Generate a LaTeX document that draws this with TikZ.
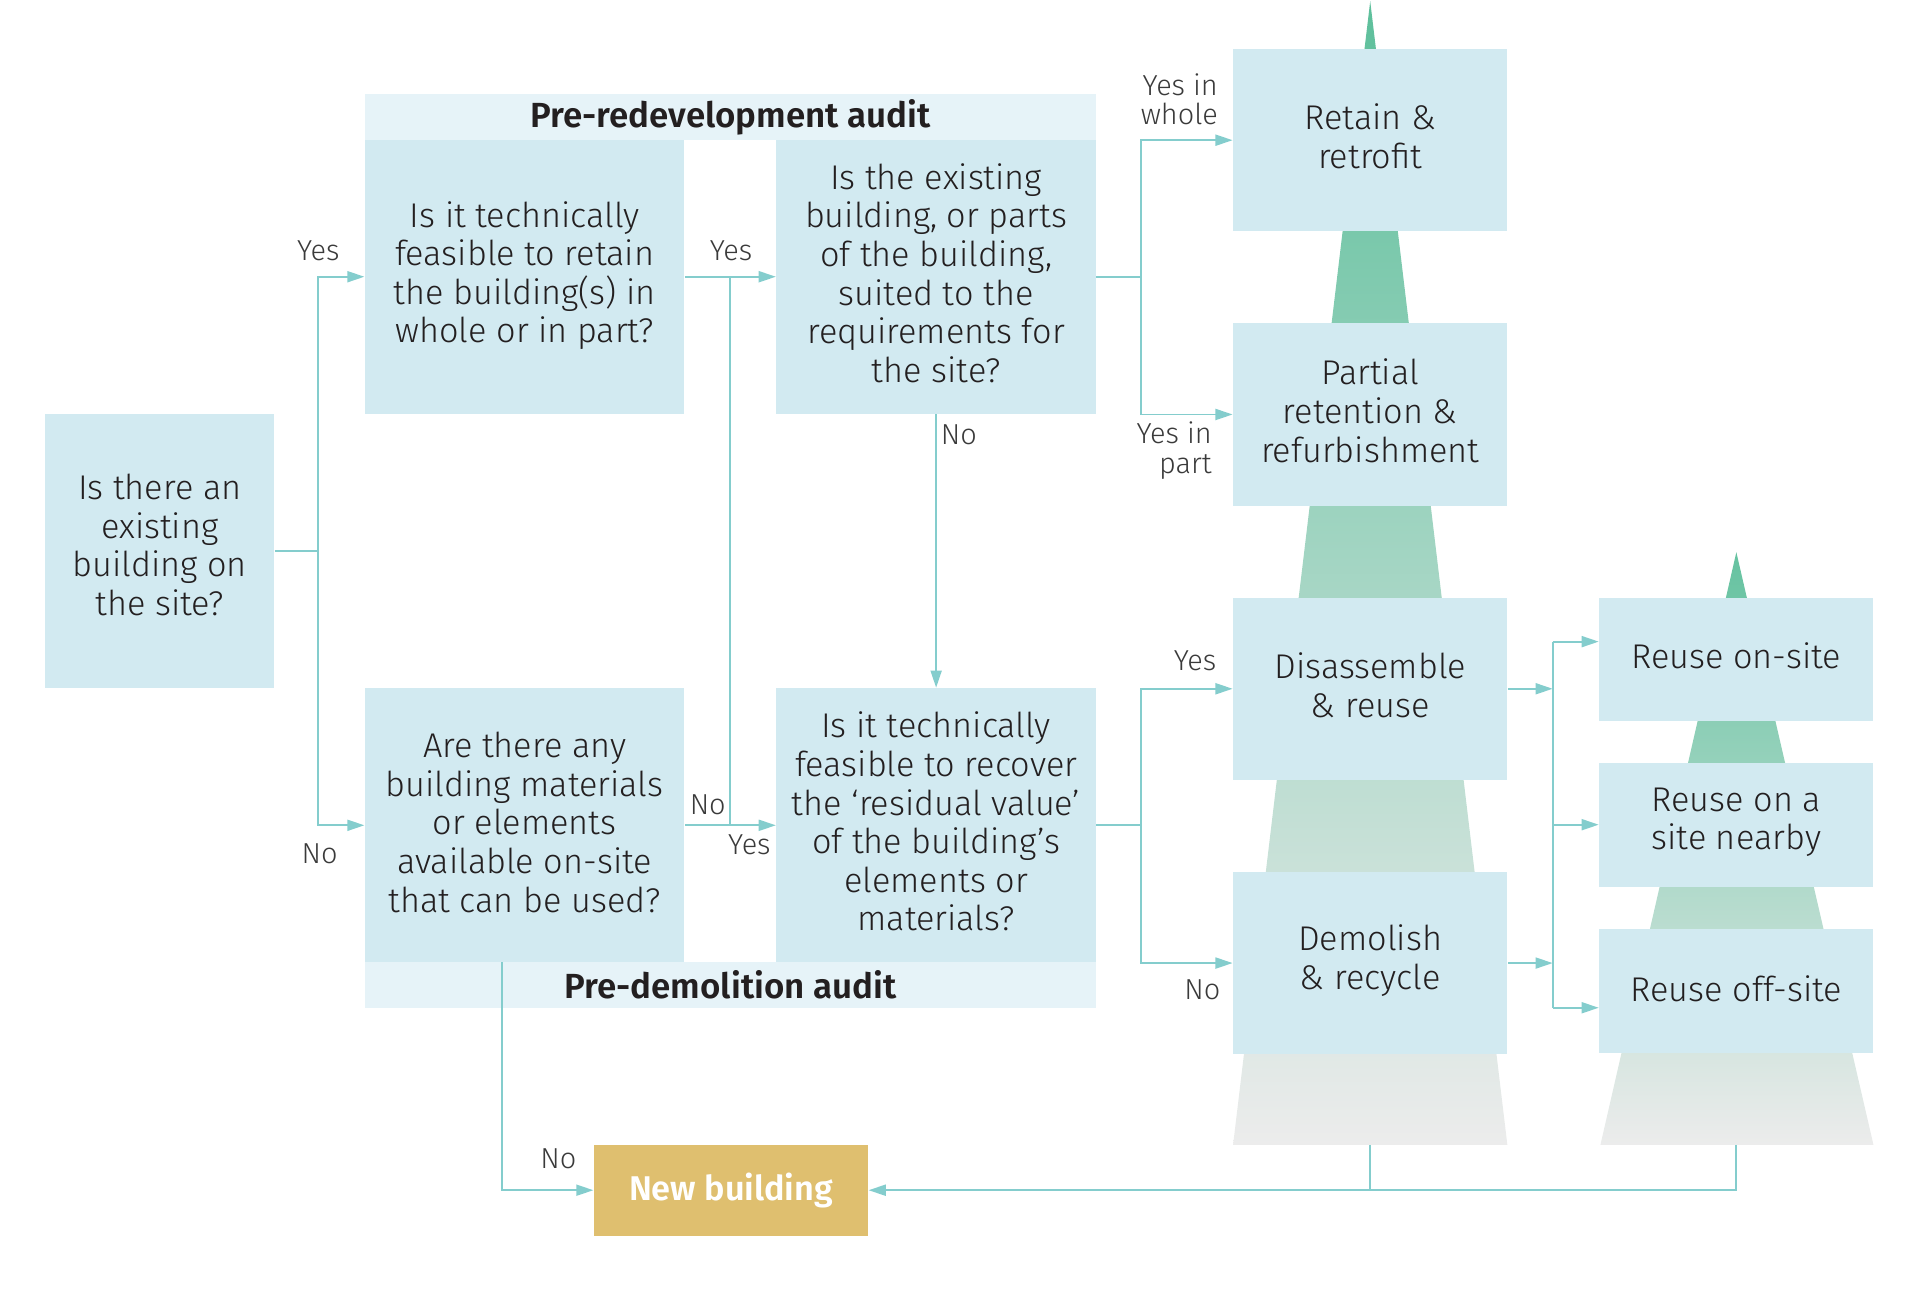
\documentclass[tikz,border=0pt]{standalone}
\usepackage{fontspec}
\IfFontExistsTF{Fira Sans Light}{\setmainfont{Fira Sans Light}}{\setmainfont{Fira Sans}}
\IfFontExistsTF{Fira Sans SemiBold}{\newfontfamily\myHeadFam{Fira Sans SemiBold}}{\newfontfamily\myHeadFam{Fira Sans}[UprightFont=* Bold]}
\usetikzlibrary{arrows.meta,calc}
\definecolor{boxc}{HTML}{D2EAF1}
\definecolor{headc}{HTML}{E6F3F8}
\definecolor{linec}{HTML}{84CDCD}
\definecolor{txtc}{HTML}{231F20}
\definecolor{labc}{HTML}{3A3A3A}
\definecolor{goldc}{HTML}{DFBF6F}
\definecolor{gtop}{HTML}{5DBF9B}
\definecolor{gbot}{HTML}{ECECEC}
\newcommand\myBody{\fontsize{14}{15.75}\selectfont}
\newcommand\myLab{\fontsize{11.8}{12}\selectfont}
\newcommand\myHead{\myHeadFam\fontsize{14.25}{15}\selectfont}
% box with separately placed text: style, name, centre, text shift, text
\newcommand\myBox[5]{\node[#1] (#2) at #3 {};
  \node[boxtext] (#2t) at ([yshift=#4]#2.center) {#5};}
\begin{document}
\begin{tikzpicture}[x=0.5pt,y=-0.5pt,
  box/.style={fill=boxc, draw=none, inner sep=0pt},
  boxtext/.style={inner sep=0pt, align=center, text=txtc, font=\myBody},
  qbox/.style={box, minimum width=130.5pt, minimum height=112pt},
  rbox/.style={box, minimum width=112pt, minimum height=74.5pt},
  sbox/.style={box, minimum width=112pt, minimum height=50.5pt},
  headbox/.style={fill=headc, inner sep=0pt, minimum width=298.5pt, minimum height=18.5pt, text=txtc, font=\myHead},
  lab/.style={inner sep=0pt, text=labc, font=\myLab, align=center},
  conn/.style={draw=linec, line width=0.8pt},
  arr/.style={conn, -{Triangle[length=7pt,width=4.5pt]}}]
\useasboundingbox (0,0) rectangle (1568,1068);
% pyramids
\shade[top color=gtop, bottom color=gbot] (1119,1) -- (1231,935) -- (1007,935) -- cycle;
\shade[top color=gtop!95!white, bottom color=gbot] (1418,451) -- (1530,935) -- (1307,935) -- cycle;
\coordinate (base1) at (1119,935);
\coordinate (base2) at (1418,935);
% boxes
\myBox{box, minimum width=93.5pt, minimum height=112pt}{Q0}{(130.5,450)}{2.5pt}{Is there an\\existing\\building on\\the site?}
\node[headbox] (H1) at (596.5,95.5) {Pre-redevelopment audit};
\node[headbox] (H2) at (596.5,804.5) {Pre-demolition audit};
\myBox{qbox}{Q1}{(428.5,226)}{0.5pt}{Is it technically\\feasible to retain\\the building(s) in\\whole or in part?}
\myBox{qbox}{Q2}{(764.5,226)}{1.5pt}{Is the existing\\building, or parts\\of the building,\\suited to the\\requirements for\\the site?}
\myBox{qbox}{Q3}{(428.5,674)}{1.2pt}{Are there any\\building materials\\or elements\\available on-site\\that can be used?}
\myBox{qbox}{Q4}{(764.5,674)}{1.5pt}{Is it technically\\feasible to recover\\the ‘residual value’\\of the building’s\\elements or\\materials?}
\myBox{rbox}{R1}{(1119,114.5)}{1.6pt}{Retain \&\\retrofit}
\myBox{rbox}{R2}{(1119,338.5)}{1.5pt}{Partial\\retention \&\\refurbishment}
\myBox{rbox}{R3}{(1119,562.5)}{1.5pt}{Disassemble\\\& reuse}
\myBox{rbox}{R4}{(1119,786.5)}{1pt}{Demolish\\\& recycle}
\myBox{sbox}{R5}{(1418,538.5)}{1.5pt}{Reuse on-site}
\myBox{sbox}{R6}{(1418,673.5)}{1pt}{Reuse on a\\site nearby}
\myBox{sbox}{R7}{(1418,809.5)}{1pt}{Reuse off-site}
\node[fill=goldc, inner sep=0pt, minimum width=112pt, minimum height=37pt, text=white, font=\myHeadFam\fontsize{14}{16}\selectfont] (NB) at (597,972) {New building};
% connectors
\coordinate (j1) at (260,450);
\draw[conn] (Q0.east) -- (j1);
\draw[arr] (j1) |- (Q1.west);
\draw[arr] (j1) |- (Q3.west);
\draw[arr] (Q1.east) -- (Q2.west);
\coordinate (jm) at ($(Q1.east)!0.5!(Q2.west)$);
\draw[conn] (jm) -- (jm |- Q3.east);
\draw[arr] (Q3.east) -- (Q4.west);
\draw[arr] (Q2.south) -- (Q4.north);
\coordinate (j2) at (932,226);
\draw[conn] (Q2.east) -- (j2);
\draw[arr] (j2) |- (R1.west);
\draw[arr] (j2) |- (R2.west);
\coordinate (j3) at (932,674);
\draw[conn] (Q4.east) -- (j3);
\draw[arr] (j3) |- (R3.west);
\draw[arr] (j3) |- (R4.west);
\coordinate (bus1) at (1268,524);
\coordinate (bus2) at (1268,823);
\draw[conn] (bus1) -- (bus2);
\draw[arr] (R3.east) -- (R3.east -| bus1);
\draw[arr] (R4.east) -- (R4.east -| bus1);
\draw[arr] (bus1) -- (bus1 -| R5.west);
\draw[arr] (R6.west -| bus1) -- (R6.west);
\draw[arr] (bus2) -- (bus2 -| R7.west);
\coordinate (q3b) at (410,786);
\draw[arr] (q3b) |- (NB.west);
\draw[conn] (base1) -- (base1 |- NB.east);
\draw[arr] (base2) |- (NB.east);
% labels
\node[lab] (l1) at (260,205) {Yes};
\node[lab] (l2) at (261,697) {No};
\node[lab] (l3) at (597,205) {Yes};
\node[lab] (l4) at (578,657) {No};
\node[lab] (l5) at (612,690) {Yes};
\node[lab] (l6) at (783,355) {No};
\node[lab, align=right, anchor=east] (l7) at (995,81) {Yes in\\whole};
\node[lab, align=right, anchor=east] (l8) at (990,368) {Yes in\\part};
\node[lab] (l9) at (976,540) {Yes};
\node[lab] (l10) at (982,808) {No};
\node[lab] (l11) at (456,946) {No};
\end{tikzpicture}
\end{document}
